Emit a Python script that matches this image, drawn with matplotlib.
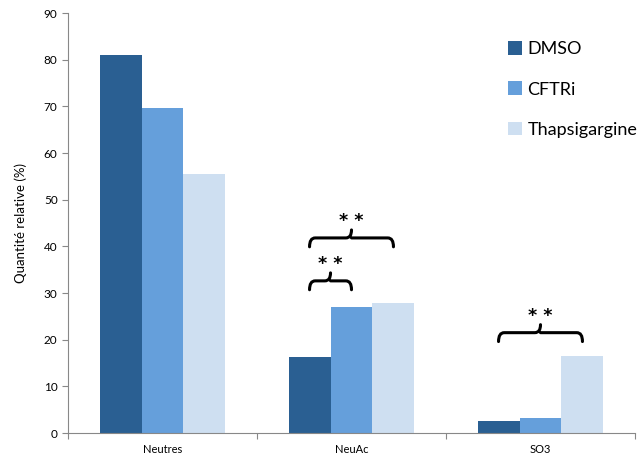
import numpy as np
import matplotlib.pyplot as plt
from matplotlib.path import Path
from matplotlib.patches import PathPatch

plt.rcParams['font.family'] = ['Lato', 'DejaVu Sans']

# Données
categories = ['Neutres', 'NeuAc', 'SO3']
series = ['DMSO', 'CFTRi', 'Thapsigargine']
dmso = [81.0, 16.3, 2.6]
cftri = [69.7, 27.0, 3.2]
thapsi = [55.5, 27.8, 16.5]
values = [dmso, cftri, thapsi]
colors = ['#2A5F92', '#659FDB', '#CEDFF1']

# Significativité: (catégorie, série gauche, série droite, hauteur)
brackets = [
    (1, 0, 1, 32.6),
    (1, 0, 2, 41.8),
    (2, 0, 2, 21.5),
]

fig = plt.figure(figsize=(6.42, 4.59), dpi=100)
ax = fig.add_axes([68 / 642, 26 / 459, 567 / 642, 420 / 459])

x = np.arange(len(categories))
w = 0.222
offsets = [-w, 0, w]
for vals, off, col, name in zip(values, offsets, colors, series):
    ax.bar(x + off, vals, width=w, color=col, label=name, zorder=2)


def brace(xa, xb, y, ax):
    """Accolade horizontale avec petite pointe au milieu."""
    h = 1.9
    r = 0.03
    xm = (xa + xb) / 2
    verts = [(xa, y - h), (xa, y), (xa + r, y),
             (xm - r, y), (xm, y), (xm, y + h * 0.9),
             (xm, y), (xm, y), (xm + r, y),
             (xb - r, y), (xb, y), (xb, y - h)]
    codes = [Path.MOVETO, Path.CURVE3, Path.CURVE3,
             Path.LINETO, Path.CURVE3, Path.CURVE3,
             Path.MOVETO, Path.LINETO, Path.LINETO,
             Path.LINETO, Path.CURVE3, Path.CURVE3]
    ax.add_patch(PathPatch(Path(verts, codes), fill=False, lw=2.2,
                           color='black', capstyle='round', zorder=3))
    ax.text(xm, y + 3.6, '* *', ha='center', va='center', fontsize=12.5,
            fontweight='bold', family='DejaVu Sans')


for cat, i, j, y in brackets:
    brace(cat + offsets[i], cat + offsets[j], y, ax)

ax.set_xlim(-0.5, 2.5)
ax.set_ylim(0, 90)
ax.set_yticks(np.arange(0, 91, 10))
ax.set_xticks(np.arange(-0.5, 2.6, 1))
ax.set_xticklabels([])
ax.set_xticks(x, minor=True)
ax.set_xticklabels(categories, minor=True)
ax.tick_params(axis='x', which='minor', length=0, labelsize=8, pad=8)
ax.tick_params(axis='x', which='major', length=4, color='#888888')
ax.tick_params(axis='y', length=4, color='#888888', labelsize=8.5)
for s in ['top', 'right']:
    ax.spines[s].set_visible(False)
for s in ['left', 'bottom']:
    ax.spines[s].set_color('#888888')
ax.set_ylabel('Quantité relative (%)', fontsize=9.5, labelpad=12)

ax.legend(loc='upper left', bbox_to_anchor=(508 / 642, 1 - 41 / 459),
          bbox_transform=fig.transFigure, frameon=False, fontsize=13,
          handlelength=0.78, handleheight=0.78, handletextpad=0.3,
          labelspacing=1.35, borderaxespad=0, borderpad=0)

fig.savefig('out.png', dpi=100)
